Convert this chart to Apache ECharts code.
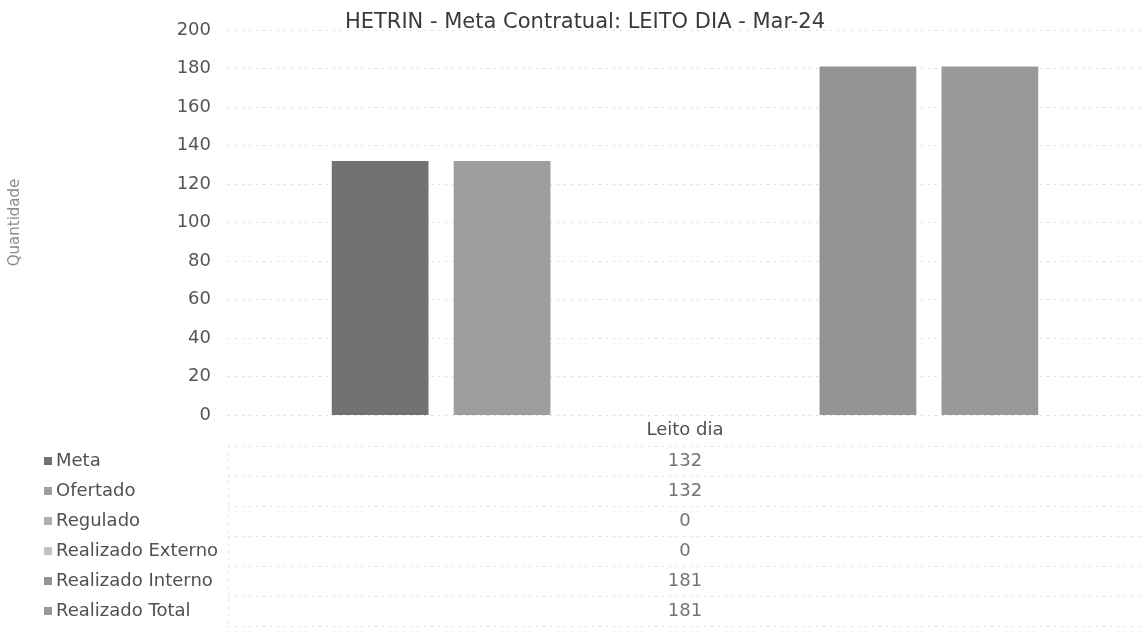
<!DOCTYPE html>
<html>
<head>
<meta charset="utf-8">
<script src="https://cdn.jsdelivr.net/npm/echarts@6/dist/echarts.min.js"></script>
<style>
 html,body{margin:0;padding:0;background:#fff;}
 #chart{width:1142px;height:628px;}
</style>
</head>
<body>
<div id="chart"></div>
<script>
// dados
var categorias = ['Leito dia'];
var nomes = ['Meta', 'Ofertado', 'Regulado', 'Realizado Externo', 'Realizado Interno', 'Realizado Total'];
var meta = [132];
var ofertado = [132];
var regulado = [0];
var realizadoExterno = [0];
var realizadoInterno = [181];
var realizadoTotal = [181];
var yTicks = [0, 20, 40, 60, 80, 100, 120, 140, 160, 180, 200];

var valores = [meta, ofertado, regulado, realizadoExterno, realizadoInterno, realizadoTotal];
var cores = ['#727272', '#9e9e9e', '#b0b0b0', '#c2c2c2', '#949494', '#999999'];
var fonte = 'DejaVu Sans';

var dom = document.getElementById('chart');
var myChart = echarts.init(dom);

// rich text pros quadradinhos da legenda na tabela
var rich = {};
nomes.forEach(function (n, i) {
  rich['q' + i] = { width: 8, height: 8, backgroundColor: cores[i] };
  rich['t' + i] = { fontFamily: fonte, fontSize: 18, color: '#505050', padding: [0, 0, 0, 4] };
});

var series = nomes.map(function (n, i) {
  return {
    name: n,
    type: 'bar',
    xAxisIndex: 0,
    yAxisIndex: 0,
    barGap: '26%',
    barCategoryGap: '22.7%',
    itemStyle: { color: cores[i] },
    data: valores[i]
  };
});

// tabela de dados embaixo do gráfico
series.push({
  type: 'scatter',
  xAxisIndex: 1,
  yAxisIndex: 1,
  symbolSize: 1,
  itemStyle: { color: 'rgba(0,0,0,0)' },
  label: {
    show: true,
    position: 'inside',
    fontFamily: fonte,
    fontSize: 18,
    color: '#505050',
    formatter: function (p) { return p.value[2]; }
  },
  data: nomes.map(function (n, i) { return [0, i, valores[i][0]]; })
});

var option = {
  animation: false,
  title: {
    text: 'HETRIN - Meta Contratual: LEITO DIA - Mar-24',
    left: 580,
    top: 7,
    textAlign: 'center',
    textStyle: { fontFamily: fonte, fontWeight: 'normal', fontSize: 21, color: '#3a3a3a' }
  },
  grid: [
    { left: 228, right: -6, top: 30, bottom: 213 },
    { left: 228, right: -6, top: 446, bottom: 2 }
  ],
  xAxis: [
    {
      type: 'category',
      gridIndex: 0,
      data: categorias,
      axisLine: { show: false },
      axisTick: { show: false },
      axisLabel: { margin: 6, fontFamily: fonte, fontSize: 18, color: '#505050' }
    },
    {
      type: 'category',
      gridIndex: 1,
      data: categorias,
      show: false
    }
  ],
  yAxis: [
    {
      type: 'value',
      gridIndex: 0,
      min: yTicks[0],
      max: yTicks[yTicks.length - 1],
      interval: yTicks[1] - yTicks[0],
      name: 'Quantidade',
      nameLocation: 'middle',
      nameGap: 205,
      nameTextStyle: { fontFamily: fonte, fontSize: 15, color: '#8a8a8a' },
      axisLine: { show: false },
      axisTick: { show: false },
      axisLabel: { margin: 17, fontFamily: fonte, fontSize: 18, color: '#555' },
      splitLine: { lineStyle: { type: [2, 5], color: '#dcdcdc' } }
    },
    {
      type: 'category',
      gridIndex: 1,
      inverse: true,
      data: nomes,
      axisLine: { show: true, lineStyle: { type: [2, 5], color: '#e2e2e2' } },
      axisTick: { show: false },
      axisLabel: {
        margin: 184,
        align: 'left',
        formatter: function (v, i) { return '{q' + i + '|}{t' + i + '|' + v + '}'; },
        rich: rich
      },
      splitLine: { show: true, lineStyle: { type: [2, 5], color: '#e0e0e0' } }
    }
  ],
  series: series
};

myChart.setOption(option);
window.onresize = myChart.resize;
</script>
</body>
</html>
